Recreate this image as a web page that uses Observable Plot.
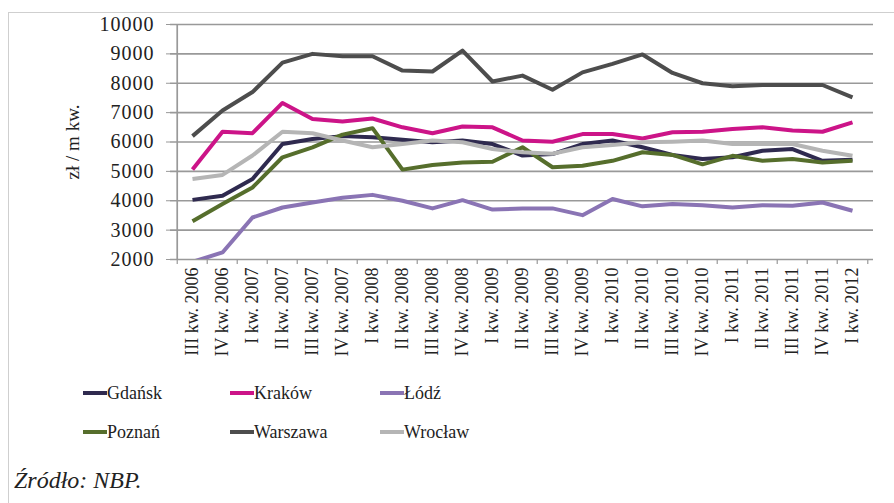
<!DOCTYPE html>
<html>
<head>
<meta charset="utf-8">
<script src="https://cdn.jsdelivr.net/npm/d3@7"></script>
<script src="https://cdn.jsdelivr.net/npm/@observablehq/plot@0.6"></script>
<style>
  html, body { margin: 0; padding: 0; background: #fff; }
  #wrap { position: relative; width: 894px; height: 503px; overflow: hidden; font-family: "Liberation Serif", "Times New Roman", serif; color: #222; }
  #box { position: absolute; left: 8px; top: 12px; width: 890px; height: 500px; border-top: 1px solid #cfcfcf; border-left: 1px solid #cfcfcf; }
  #chart { position: absolute; left: 0; top: 0; }
  .leg { position: absolute; font-size: 18px; line-height: 20px; display: flex; align-items: center; }
  .sw { display: inline-block; width: 24px; height: 4px; margin-right: 0px; }
  #src { position: absolute; left: 14px; top: 467px; font-size: 24px; font-style: italic; }
  [aria-label="y-axis tick label"] text { letter-spacing: 1px; }
</style>
</head>
<body>
<div id="wrap">
  <div id="box"></div>
  <div id="chart"></div>
  <div id="legend"></div>
  <div id="src">Źródło: NBP.</div>
</div>
<script>
const quarters = ["III kw. 2006","IV kw. 2006","I kw. 2007","II kw. 2007","III kw. 2007","IV kw. 2007",
  "I kw. 2008","II kw. 2008","III kw. 2008","IV kw. 2008","I kw. 2009","II kw. 2009","III kw. 2009","IV kw. 2009",
  "I kw. 2010","II kw. 2010","III kw. 2010","IV kw. 2010","I kw. 2011","II kw. 2011","III kw. 2011","IV kw. 2011","I kw. 2012"];

const gdansk   = [4030,4170,4740,5930,6100,6200,6160,6080,5990,6050,5930,5540,5590,5930,6050,5820,5560,5420,5480,5700,5760,5360,5400];
const krakow   = [5060,6350,6300,7330,6780,6700,6800,6500,6300,6530,6500,6050,6010,6270,6270,6120,6330,6350,6440,6500,6390,6350,6670];
const lodz     = [1920,2240,3430,3770,3940,4100,4200,4000,3740,4020,3700,3740,3740,3510,4060,3810,3890,3850,3770,3850,3830,3940,3660];
const poznan   = [3300,3890,4450,5480,5820,6250,6470,5060,5220,5300,5330,5820,5140,5190,5360,5650,5560,5240,5530,5360,5420,5300,5360];
const warszawa = [6200,7070,7700,8700,9000,8920,8920,8430,8400,9110,8060,8260,7780,8370,8660,8980,8350,8000,7900,7940,7940,7940,7520];
const wroclaw  = [4740,4880,5540,6350,6300,6050,5820,5930,6050,5990,5760,5650,5600,5820,5900,5990,6010,6050,5930,5930,5930,5700,5530];

const cities = ["Gdańsk","Kraków","Łódź","Poznań","Warszawa","Wrocław"];
const seriesValues = [gdansk, krakow, lodz, poznan, warszawa, wroclaw];
const colors = ["#2f2a4f","#cc1488","#8a74b4","#566e2c","#4d4d4d","#b5b5b5"];
const yTicks = [2000,3000,4000,5000,6000,7000,8000,9000,10000];
const yLabel = "zł / m kw.";

const FONT = "'Liberation Serif', 'Times New Roman', serif";
const W = 894, H = 370, ML = 170, MR = 21, MT = 24, MB = 111;
const step = (W - ML - MR) / quarters.length;

const lineMarks = cities.map((c, k) =>
  Plot.lineY(quarters.map((q, i) => ({q, v: seriesValues[k][i]})),
    {x: "q", y: "v", stroke: colors[k], strokeWidth: 4, strokeLinejoin: "round", strokeLinecap: "butt", clip: true})
);

const chart = Plot.plot({
  width: W, height: H,
  marginLeft: ML, marginRight: MR, marginTop: MT, marginBottom: MB,
  style: {fontFamily: FONT, color: "#222", background: "transparent", overflow: "visible"},
  x: {type: "point", domain: quarters, padding: 0.5, label: null},
  y: {domain: [2000, 10000], label: null},
  marks: [
    Plot.gridY(yTicks, {stroke: "#999", strokeOpacity: 1, strokeWidth: 1.7}),
    Plot.ruleX([quarters[0]], {dx: -step / 2, y1: 2000, y2: 10000, stroke: "#999", strokeWidth: 1.7}),
    Plot.ruleX(quarters, {dx: -step / 2, y1: 2000, y2: 2000, insetBottom: -5, stroke: "#999", strokeWidth: 1.2}),
    Plot.ruleX([quarters[quarters.length - 1]], {dx: step / 2, y1: 2000, y2: 2000, insetBottom: -5, stroke: "#999", strokeWidth: 1.2}),
    Plot.axisY(yTicks, {tickSize: 4, tickPadding: 12, stroke: "#999", fontSize: 20, fontFamily: FONT, tickFormat: d => String(d)}),
    Plot.axisX({tickSize: 0, tickRotate: -90, tickPadding: 8, fontSize: 18, fontFamily: FONT}),
    ...lineMarks,
    Plot.text([yLabel], {frameAnchor: "left", textAnchor: "middle", dx: -98, rotate: -90, fontSize: 19, fill: "#222", fontFamily: FONT})
  ]
});
document.getElementById("chart").appendChild(chart);

// legend
const legPos = [[83,393],[230,393],[380,393],[83,432],[230,432],[380,432]];
const legend = document.getElementById("legend");
cities.forEach((c, k) => {
  const d = document.createElement("div");
  d.className = "leg";
  d.style.left = legPos[k][0] + "px";
  d.style.top = (legPos[k][1] - 10) + "px";
  d.innerHTML = `<span class="sw" style="background:${colors[k]}"></span><span>${c}</span>`;
  legend.appendChild(d);
});
</script>
</body>
</html>
